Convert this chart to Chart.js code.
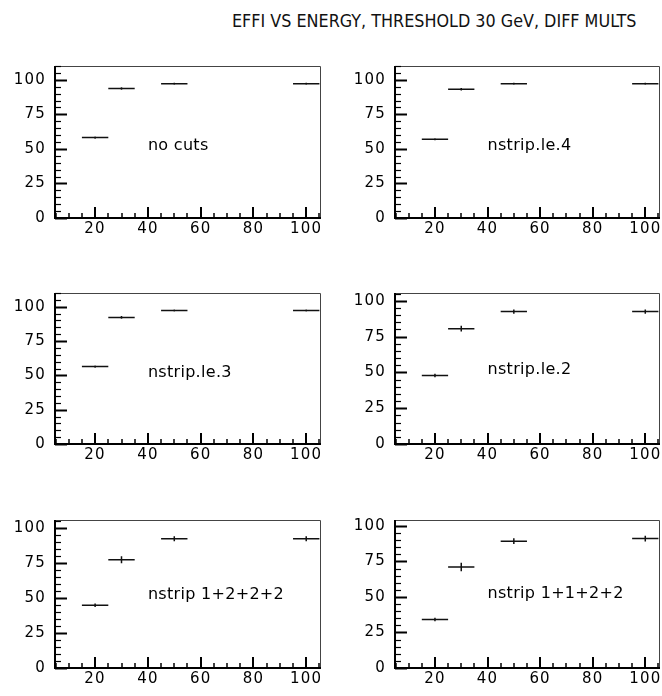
<!DOCTYPE html>
<html>
<head>
<meta charset="utf-8">
<script src="https://cdn.jsdelivr.net/npm/chart.js@4.4.0/dist/chart.umd.min.js"></script>
<style>
  body { margin: 0; background: #fff; width: 662px; height: 696px; position: relative; overflow: hidden; }
  #title { position: absolute; left: 232px; top: 10px; font: 17.8px "DejaVu Sans Condensed", "Liberation Sans Narrow", sans-serif; color: #111; white-space: nowrap; }
  .panel { position: absolute; }
</style>
</head>
<body>
<div id="title">EFFI VS ENERGY, THRESHOLD 30 GeV, DIFF MULTS</div>

<script>
// beam energies (GeV) and bin edges
const energies = [20, 30, 50, 100];
const binLow = [15, 25, 45, 95];
const binHigh = [25, 35, 55, 105];

// efficiency (%) and errors for each multiplicity cut
const effNoCuts = [58.2, 93.7, 97.1, 97.1];
const errNoCuts = [0.8, 0.9, 0.7, 0.7];
const effLe4 = [57.0, 93.2, 97.1, 97.1];
const errLe4 = [0.8, 0.9, 0.7, 0.7];
const effLe3 = [56.4, 92.2, 97.2, 97.2];
const errLe3 = [0.8, 1.0, 0.7, 0.7];
const effLe2 = [47.8, 80.6, 92.5, 92.5];
const errLe2 = [1.2, 2.0, 1.5, 1.5];
const eff1222 = [44.7, 77.2, 92.2, 92.2];
const err1222 = [1.2, 2.5, 1.8, 1.8];
const eff1122 = [34.1, 71.1, 89.3, 91.1];
const err1122 = [1.2, 3.0, 2.0, 2.0];

const panelLabels = ['no cuts', 'nstrip.le.4', 'nstrip.le.3', 'nstrip.le.2', 'nstrip 1+2+2+2', 'nstrip 1+1+2+2'];
const yMaxes = [110, 110, 110, 105.5, 105.5, 104.2];
const xTickValues = [20, 40, 60, 80, 100];
const yTickValues = [0, 25, 50, 75, 100];

const series = [
  [effNoCuts, errNoCuts], [effLe4, errLe4], [effLe3, errLe3],
  [effLe2, errLe2], [eff1222, err1222], [eff1122, err1122]
];

// frame layout: columns and rows
const cols = [{ x: 0, w: 330, left: 55, right: 321 }, { x: 330, w: 332, left: 395, right: 660 }];
const rows = [{ top: 66, bottom: 218 }, { top: 293, bottom: 444 }, { top: 520, bottom: 668 }];
const PAD_TOP = 12, X_AXIS_H = 32;

const FONT = '"DejaVu Sans", sans-serif';

function noEdgePadding(s) {
  s.paddingTop = 0;
  s.paddingBottom = 0;
  s.paddingLeft = 0;
  s.paddingRight = 0;
}

const pawFrame = {
  id: 'pawFrame',
  beforeDraw(chart) {
    chart.ctx.letterSpacing = '1.2px';
  },
  afterDatasetsDraw(chart) {
    const { ctx, scales: { x, y } } = chart;
    ctx.save();
    ctx.strokeStyle = '#111';
    ctx.lineWidth = 1.5;
    chart.data.datasets[0].data.forEach(p => {
      const py = y.getPixelForValue(p.y);
      const px = x.getPixelForValue(p.x);
      ctx.beginPath();
      ctx.moveTo(x.getPixelForValue(p.lo), py);
      ctx.lineTo(x.getPixelForValue(p.hi), py);
      ctx.moveTo(px, y.getPixelForValue(p.y + p.e));
      ctx.lineTo(px, y.getPixelForValue(p.y - p.e));
      ctx.stroke();
    });
    ctx.restore();
  },
  afterDraw(chart) {
    const { ctx, chartArea: a, scales: { x, y } } = chart;
    ctx.save();
    // thin top/right frame
    ctx.strokeStyle = '#444';
    ctx.lineWidth = 1;
    ctx.beginPath();
    ctx.moveTo(a.left, a.top + 0.5);
    ctx.lineTo(a.right - 0.5, a.top + 0.5);
    ctx.lineTo(a.right - 0.5, a.bottom);
    ctx.stroke();
    // heavy axes
    ctx.strokeStyle = '#000';
    ctx.lineWidth = 2;
    ctx.beginPath();
    ctx.moveTo(a.left, a.top);
    ctx.lineTo(a.left, a.bottom);
    ctx.lineTo(a.right, a.bottom);
    ctx.stroke();
    // inward ticks
    for (let v = 5; v <= x.max; v += 5) {
      const px = Math.round(x.getPixelForValue(v));
      const major = v % 20 === 0;
      ctx.lineWidth = major ? 2 : 1.5;
      ctx.beginPath();
      ctx.moveTo(px, a.bottom);
      ctx.lineTo(px, a.bottom - (major ? 11 : 5));
      ctx.stroke();
    }
    for (let v = 0; v <= y.max; v += 5) {
      const py = Math.round(y.getPixelForValue(v)) + 0.5;
      const major = v % 25 === 0;
      ctx.lineWidth = major ? 2 : 1.2;
      ctx.beginPath();
      ctx.moveTo(a.left, py);
      ctx.lineTo(a.left + (major ? 12 : 6), py);
      ctx.stroke();
    }
    // panel caption
    ctx.letterSpacing = '0.3px';
    ctx.fillStyle = '#000';
    ctx.font = '16px ' + FONT;
    ctx.textBaseline = 'middle';
    ctx.fillText(chart.options.plugins.pawFrame.label, x.getPixelForValue(40), y.getPixelForValue(52));
    ctx.restore();
  }
};

series.forEach(([eff, err], i) => {
  const col = cols[i % 2];
  const row = rows[Math.floor(i / 2)];
  const box = document.createElement('div');
  box.className = 'panel';
  const h = row.bottom - row.top + PAD_TOP + X_AXIS_H;
  box.style.left = col.x + 'px';
  box.style.top = (row.top - PAD_TOP) + 'px';
  const canvas = document.createElement('canvas');
  canvas.width = col.w;
  canvas.height = h;
  box.appendChild(canvas);
  document.body.appendChild(box);

  new Chart(canvas, {
    type: 'scatter',
    data: {
      datasets: [{
        data: energies.map((e, k) => ({ x: e, y: eff[k], lo: binLow[k], hi: binHigh[k], e: err[k] })),
        pointRadius: 0,
        showLine: false,
      }],
    },
    options: {
      responsive: false,
      animation: false,
      layout: { padding: { top: PAD_TOP, right: col.x + col.w - col.right, left: 0, bottom: 0 } },
      plugins: {
        legend: { display: false },
        tooltip: { enabled: false },
        pawFrame: { label: panelLabels[i] },
      },
      scales: {
        x: {
          type: 'linear',
          min: 4.8,
          max: 105.6,
          grid: { display: false, drawTicks: false },
          border: { display: false },
          afterBuildTicks: s => { s.ticks = xTickValues.map(v => ({ value: v })); },
          afterFit: s => { s.height = X_AXIS_H; noEdgePadding(s); },
          ticks: { color: '#000', font: { family: FONT, size: 15 }, padding: 2, maxRotation: 0 },
        },
        y: {
          type: 'linear',
          min: 0,
          max: yMaxes[i],
          grid: { display: false, drawTicks: false },
          border: { display: false },
          afterBuildTicks: s => { s.ticks = yTickValues.map(v => ({ value: v })); },
          afterFit: s => { s.width = col.left - col.x; noEdgePadding(s); },
          ticks: { color: '#000', font: { family: FONT, size: 15 }, padding: 9 },
        },
      },
    },
    plugins: [pawFrame],
  });
});
</script>
</body>
</html>
